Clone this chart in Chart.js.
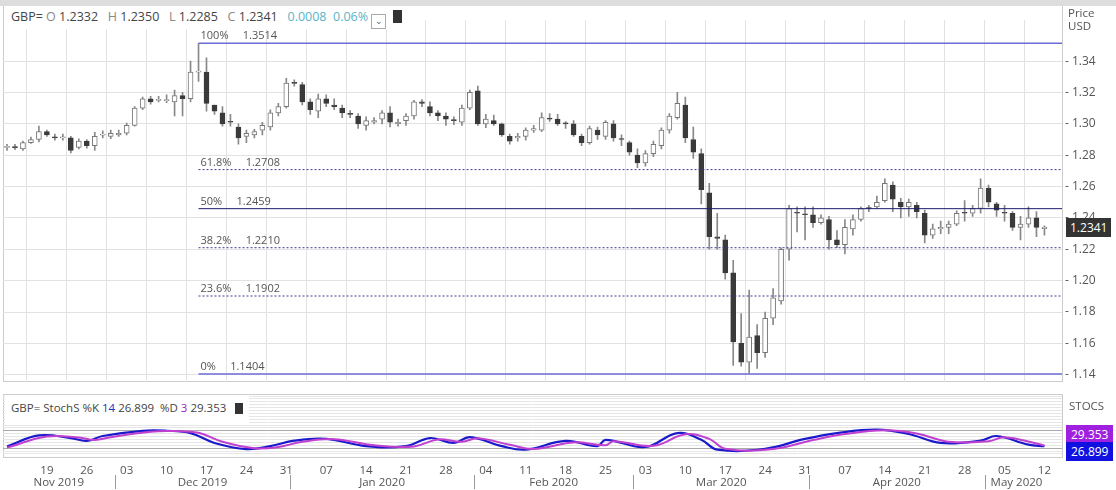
<!DOCTYPE html>
<html><head><meta charset="utf-8">
<script src="https://cdn.jsdelivr.net/npm/chart.js@4/dist/chart.umd.min.js"></script>
<style>
body{margin:0;background:#fff;font-family:"Open Sans",Arial,sans-serif;width:1116px;height:490px;overflow:hidden;position:relative}
.abs{position:absolute;white-space:nowrap}
#mainWrap{position:absolute;left:0;top:0;width:1116px;height:392px}
#stWrap{position:absolute;left:0;top:390px;width:1116px;height:100px}
.hdr{font-size:12.5px;color:#444}
</style></head><body>
<div style="position:absolute;left:0;top:0;width:1116px;height:6px;background:#ddd"></div>
<div style="position:absolute;left:3px;top:6px;width:1060px;height:376px;border:1px solid #ccc;border-top:none;box-sizing:border-box"></div>
<div style="position:absolute;left:3px;top:394px;width:1060px;height:64px;border:1px solid #ccc;box-sizing:border-box"></div>
<div id="mainWrap"><canvas id="main" width="1116" height="392" style="width:1116px;height:392px"></canvas></div>
<div id="stWrap"><canvas id="st" width="1116" height="100" style="width:1116px;height:100px"></canvas></div>
<div class="abs hdr" style="left:11px;top:8px;background:#fff;padding-right:6px">GBP= <span style="color:#888">O</span> 1.2332 &nbsp; <span style="color:#888">H</span> 1.2350 &nbsp; <span style="color:#888">L</span> 1.2285 &nbsp; <span style="color:#888">C</span> 1.2341 &nbsp; <span style="color:#5ab4c4">0.0008 &nbsp;0.06%</span>
<span style="display:inline-block;width:13px;height:13px;border:1px solid #aaa;vertical-align:-3px;font-size:9px;text-align:center;line-height:12px;color:#666">&#8964;</span>
<span style="display:inline-block;width:9px;height:11px;background:#333;vertical-align:-2px;margin-left:3px;border-top:2px solid #333"></span></div>
<div class="abs" style="left:1068px;top:6px;font-size:11.5px;color:#555;line-height:13px">Price<br>USD</div>
<div class="abs" style="left:5px;top:396px;font-size:11.5px;color:#444;background:#fff;padding:2px 6px;height:24px;line-height:20px">GBP= StochS %K <span style="color:#2030c0">14</span> 26.899 &nbsp;%D <span style="color:#a020c0">3</span> 29.353 &nbsp; <span style="display:inline-block;width:8px;height:11px;background:#333;vertical-align:-2px"></span></div>
<div class="abs" style="left:1069px;top:398px;font-size:11.5px;color:#555">STOCS</div>
<div id="overlay"></div>
<script>
// ---------- data ----------
const lastDate = new Date(2020,4,12);
const nCandles = 131;
const opens = [1.2850,1.2852,1.2840,1.2880,1.2900,1.2950,1.2912,1.2910,1.2910,1.2850,
1.2890,1.2860,1.2928,1.2920,1.2930,1.2940,1.2990,1.3100,1.3160,1.3150,
1.3148,1.3140,1.3180,1.3160,1.3330,1.3330,1.3120,1.3070,1.3012,1.2980,
1.2920,1.2930,1.2960,1.2980,1.3070,1.3110,1.3262,1.3250,1.3140,1.3080,
1.3160,1.3120,1.3100,1.3062,1.3050,1.2990,1.3010,1.3030,1.3070,1.3000,
1.3020,1.3050,1.3140,1.3110,1.3070,1.3050,1.3022,1.3010,1.3100,1.3210,
1.3000,1.3020,1.3000,1.2920,1.2910,1.2920,1.2960,1.2960,1.3032,1.3030,
1.3002,1.3000,1.2920,1.2880,1.2960,1.2920,1.3000,1.2902,1.2880,1.2800,
1.2750,1.2810,1.2860,1.2960,1.3040,1.3120,1.2900,1.2810,1.2560,1.2280,
1.2260,1.2050,1.1600,1.1480,1.1650,1.1540,1.1760,1.1870,1.2200,1.2435,
1.2422,1.2420,1.2370,1.2390,1.2260,1.2230,1.2330,1.2390,1.2462,1.2470,
1.2510,1.2610,1.2500,1.2470,1.2480,1.2430,1.2290,1.2330,1.2340,1.2360,
1.2432,1.2430,1.2460,1.2590,1.2490,1.2435,1.2430,1.2340,1.2360,1.2400,
1.2332];
const closes = [1.2852,1.2848,1.2880,1.2900,1.2950,1.2930,1.2910,1.2912,1.2830,1.2890,
1.2860,1.2920,1.2930,1.2940,1.2940,1.2990,1.3100,1.3160,1.3140,1.3152,
1.3150,1.3180,1.3160,1.3330,1.3332,1.3130,1.3080,1.3000,1.3010,1.2910,
1.2940,1.2950,1.2990,1.3070,1.3110,1.3260,1.3258,1.3140,1.3090,1.3160,
1.3130,1.3110,1.3070,1.3060,1.3000,1.3020,1.3020,1.3070,1.3010,1.3010,
1.3050,1.3140,1.3130,1.3070,1.3050,1.3030,1.3020,1.3100,1.3200,1.3000,
1.3030,1.3000,1.2930,1.2890,1.2920,1.2960,1.2970,1.3040,1.3030,1.3000,
1.3000,1.2930,1.2880,1.2970,1.2930,1.3010,1.2910,1.2900,1.2820,1.2750,
1.2810,1.2870,1.2960,1.3050,1.3130,1.2910,1.2820,1.2580,1.2280,1.2270,
1.2050,1.1610,1.1480,1.1640,1.1540,1.1760,1.1890,1.2200,1.2460,1.2430,
1.2420,1.2370,1.2400,1.2260,1.2230,1.2340,1.2390,1.2460,1.2460,1.2500,
1.2620,1.2520,1.2470,1.2500,1.2440,1.2290,1.2330,1.2340,1.2360,1.2430,
1.2430,1.2460,1.2590,1.2500,1.2450,1.2430,1.2340,1.2360,1.2400,1.2340,
1.2341];
const highs = [1.2870,1.2870,1.2890,1.2915,1.2985,1.2960,1.2935,1.2935,1.2920,1.2905,
1.2900,1.2945,1.2955,1.2960,1.2960,1.3005,1.3110,1.3170,1.3175,1.3175,
1.3185,1.3215,1.3200,1.3400,1.3514,1.3420,1.3120,1.3110,1.3060,1.3000,
1.2960,1.2965,1.3010,1.3090,1.3130,1.3290,1.3280,1.3265,1.3160,1.3190,
1.3185,1.3160,1.3120,1.3085,1.3065,1.3045,1.3040,1.3085,1.3110,1.3030,
1.3065,1.3150,1.3155,1.3140,1.3085,1.3070,1.3045,1.3120,1.3215,1.3240,
1.3060,1.3055,1.3005,1.2935,1.2940,1.2975,1.2990,1.3070,1.3065,1.3060,
1.3015,1.3020,1.2935,1.2985,1.2980,1.3020,1.3020,1.2930,1.2890,1.2840,
1.2830,1.2890,1.2975,1.3065,1.3200,1.3170,1.2980,1.2840,1.2620,1.2430,
1.2290,1.2130,1.1790,1.1940,1.1720,1.1800,1.1950,1.2210,1.2480,1.2470,
1.2470,1.2470,1.2420,1.2410,1.2320,1.2390,1.2420,1.2470,1.2480,1.2540,
1.2650,1.2630,1.2525,1.2520,1.2500,1.2450,1.2360,1.2380,1.2380,1.2445,
1.2510,1.2480,1.2650,1.2610,1.2500,1.2480,1.2440,1.2410,1.2470,1.2440,
1.2350];
const lows = [1.2830,1.2835,1.2830,1.2875,1.2885,1.2920,1.2895,1.2895,1.2815,1.2840,
1.2845,1.2830,1.2910,1.2905,1.2920,1.2930,1.2985,1.3090,1.3125,1.3140,
1.3135,1.3050,1.3050,1.3140,1.3270,1.3080,1.3060,1.2985,1.2985,1.2870,
1.2880,1.2910,1.2930,1.2960,1.3050,1.3100,1.3240,1.3120,1.3060,1.3040,
1.3110,1.3090,1.3040,1.3040,1.2970,1.2960,1.3000,1.3000,1.2980,1.2985,
1.2990,1.3030,1.3110,1.3050,1.3020,1.2990,1.2995,1.2990,1.3090,1.2990,
1.2975,1.2990,1.2920,1.2870,1.2890,1.2895,1.2945,1.2950,1.3015,1.2990,
1.2970,1.2920,1.2860,1.2870,1.2900,1.2900,1.2890,1.2860,1.2800,1.2720,
1.2730,1.2790,1.2840,1.2940,1.3030,1.2880,1.2780,1.2490,1.2200,1.2200,
1.2010,1.1460,1.1455,1.1410,1.1440,1.1510,1.1720,1.1850,1.2130,1.2310,
1.2260,1.2340,1.2360,1.2200,1.2210,1.2170,1.2290,1.2380,1.2440,1.2460,
1.2500,1.2440,1.2400,1.2410,1.2400,1.2240,1.2270,1.2300,1.2300,1.2350,
1.2380,1.2410,1.2430,1.2470,1.2410,1.2380,1.2320,1.2260,1.2340,1.2280,
1.2290];
const fibPct = ['100%','61.8%','50%','38.2%','23.6%','0%'];
const fibLevels = [1.3514,1.2708,1.2459,1.2210,1.1902,1.1404];
const fibStart = 24;
const kIdx = [0,4,8,10,12,17,20,23,26,30,33,36,40,45,50,53,56,58,62,65,70,74,75,80,84,87,89,95,100,104,109,113,117,122,124,128,130];
const kVal = [26,64,55,45,62,80,80,72,38,17,27,46,52,27,27,55,38,58,27,15,45,27,49,24,72,49,15,18,52,72,84,69,38,46,62,32,26.899];
const dIdx = [0,5,9,11,13,18,21,24,27,31,34,37,41,46,51,54,57,59,63,66,71,75,76,81,85,88,90,96,101,105,110,114,118,123,125,129,130];
const dVal = [22,60,57,48,58,77,79,73,42,20,24,42,51,30,26,50,42,54,32,17,40,30,44,28,68,52,18,17,48,69,82,71,42,44,58,36,29.353];
const monthNames = ['Jan','Feb','Mar','Apr','May','Jun','Jul','Aug','Sep','Oct','Nov','Dec'];

const dates = [];
{ let d = new Date(lastDate); while (dates.length < nCandles) { const w=d.getDay(); if (w!==0&&w!==6) dates.unshift(new Date(d)); d.setDate(d.getDate()-1); } }
const tickIdx = dates.map((d,i)=>(d.getDay()===2&&i>2)?i:-1).filter(i=>i>=0);

const XMIN=-0.5, XMAX=132.2;
const wicks = highs.map((h,i)=>({x:i,y:[lows[i],h]}));
const bodies = opens.map((o,i)=>({x:i,y:[o,closes[i]]}));
const up = opens.map((o,i)=>closes[i]>=o);
const fibDs = fibLevels.map((lv,j)=>({type:'line',data:[{x:fibStart,y:lv},{x:XMAX,y:lv}],
  borderColor: (j===0||j===5)?'#6c6cd6':(j===2?'#1c1c6a':'#3a3a8a'),
  borderWidth:(j===0||j===5)?1.5:1, borderDash:(j===0||j===2||j===5)?[]:[2,2], pointRadius:0, order:0}));

Chart.defaults.devicePixelRatio = 1;
const main = new Chart(document.getElementById('main'),{
  type:'bar',
  data:{datasets:[
    {data:wicks,backgroundColor:'#888',barThickness:1,grouped:false,order:2},
    {data:bodies,backgroundColor:up.map(u=>u?'#ffffff':'#3a3a3a'),borderColor:up.map(u=>u?'#777':'#3a3a3a'),borderWidth:1,borderSkipped:false,barThickness:5,minBarLength:1,grouped:false,order:1},
    ...fibDs]},
  options:{responsive:false,animation:false,devicePixelRatio:1,
    layout:{padding:{left:3,top:20,bottom:0,right:0}},
    plugins:{legend:{display:false},tooltip:{enabled:false}},
    scales:{
      x:{type:'linear',min:XMIN,max:XMAX,offset:false,
        afterBuildTicks(s){s.ticks=tickIdx.map(v=>({value:v}));},
        ticks:{display:false},grid:{color:'#e2e2e2',drawTicks:false},border:{display:false},afterFit(s){s.height=0;}},
      y:{position:'right',min:1.1355,max:1.3662,
        afterBuildTicks(s){const t=[];for(let v=1.14;v<1.345;v+=0.02)t.push({value:+v.toFixed(2)});s.ticks=t;},
        ticks:{callback:v=>'- '+v.toFixed(2),color:'#555',font:{size:12,family:'Open Sans'},padding:3},
        grid:{color:'#e2e2e2',drawTicks:false},border:{display:false},afterFit(s){s.width=54;}}
    }}
});

const st = new Chart(document.getElementById('st'),{
  type:'line',
  data:{datasets:[
    {data:dIdx.map((x,i)=>({x,y:dVal[i]})),borderColor:'#c040d0',borderWidth:2,pointRadius:0,tension:0.4},
    {data:kIdx.map((x,i)=>({x,y:kVal[i]})),borderColor:'#1a1acc',borderWidth:2.2,pointRadius:0,tension:0.4}]},
  options:{responsive:false,animation:false,devicePixelRatio:1,
    layout:{padding:{left:3,top:4,right:0,bottom:0}},
    plugins:{legend:{display:false},tooltip:{enabled:false}},
    scales:{
      x:{type:'linear',min:XMIN,max:XMAX,
        afterBuildTicks(s){s.ticks=tickIdx.map(v=>({value:v}));},
        ticks:{callback:v=>String(dates[v].getDate()).padStart(2,'0'),color:'#555',font:{size:11.5,family:'Open Sans'},maxRotation:0,autoSkip:false,padding:0},
        grid:{display:false},border:{display:false},afterFit(s){s.height=34;}},
      y:{position:'right',min:-7,max:207,
        afterBuildTicks(s){const t=[];for(let v=0;v<=200;v+=10)t.push({value:v});s.ticks=t;},
        ticks:{display:false},grid:{color:c=>(c.tick.value===20||c.tick.value===80)?'#aaa':'#e6e6e6',drawTicks:false},border:{display:false},afterFit(s){s.width=54;}}
    }}
});

const ov = document.getElementById('overlay');
function add(html,style){const d=document.createElement('div');d.className='abs';d.innerHTML=html;Object.assign(d.style,style);ov.appendChild(d);return d;}
const xs=main.scales.x, ys=main.scales.y;
fibLevels.forEach((lv,j)=>{
  add(fibPct[j]+'&nbsp;&nbsp;&nbsp;&nbsp;&nbsp;'+lv.toFixed(4),{left:(xs.getPixelForValue(fibStart)+2)+'px',top:(ys.getPixelForValue(lv)-16)+'px',fontSize:'11px',color:'#555'});
});
add(closes[nCandles-1].toFixed(4),{left:'1066px',top:(ys.getPixelForValue(closes[nCandles-1])-9)+'px',background:'#333',color:'#fff',fontSize:'12px',padding:'1px 4px'});
const sy=st.scales.y;
add(dVal[dVal.length-1].toFixed(3),{left:'1066px',top:(390+sy.getPixelForValue(dVal[dVal.length-1])-20)+'px',background:'#a020e0',color:'#fff',fontSize:'12px',padding:'1px 5px'});
add(kVal[kVal.length-1].toFixed(3),{left:'1066px',top:(390+sy.getPixelForValue(kVal[kVal.length-1])-4)+'px',background:'#1010e0',color:'#fff',fontSize:'12px',padding:'1px 5px'});
const sx=st.scales.x;
let start=0;
for(let i=1;i<=nCandles;i++){
  if(i===nCandles||dates[i].getMonth()!==dates[start].getMonth()){
    const a=sx.getPixelForValue(start), b=sx.getPixelForValue(i-1);
    add(monthNames[dates[start].getMonth()]+' '+dates[start].getFullYear(),{left:((a+b)/2-30)+'px',width:'60px',textAlign:'center',top:'474px',fontSize:'11.5px',color:'#555'});
    if(i<nCandles){add('',{left:(sx.getPixelForValue(i)-4)+'px',top:'475px',width:'1px',height:'14px',background:'#999'});}
    start=i;
  }
}
</script></body></html>
